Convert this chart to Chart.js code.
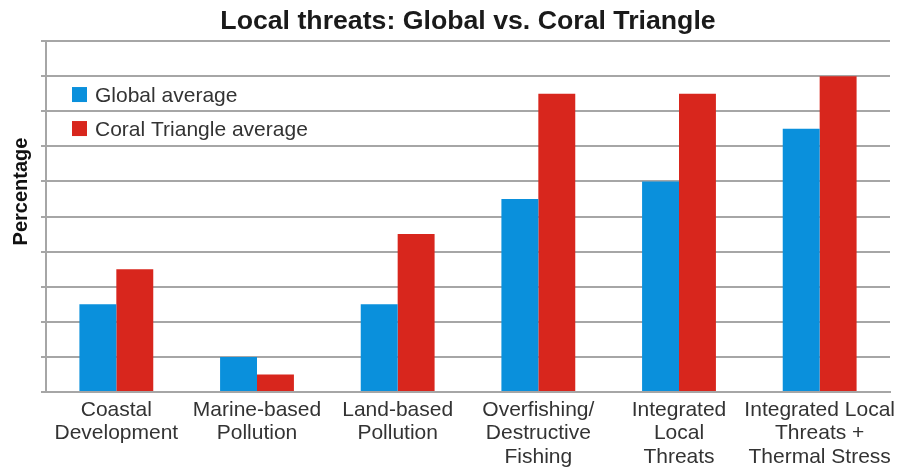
<!DOCTYPE html>
<html>
<head>
<meta charset="utf-8">
<script src="https://cdn.jsdelivr.net/npm/chart.js@4.4.1/dist/chart.umd.min.js"></script>
<style>
  html, body { margin: 0; padding: 0; background: #ffffff; }
  #wrap { width: 904px; height: 467px; position: relative; }
</style>
</head>
<body>
<div id="wrap"><canvas id="chart" width="904" height="467"></canvas></div>
<script>
// Threat categories (multi-line axis labels)
const categories = [
  ['Coastal', 'Development'],
  ['Marine-based', 'Pollution'],
  ['Land-based', 'Pollution'],
  ['Overfishing/', 'Destructive', 'Fishing'],
  ['Integrated', 'Local', 'Threats'],
  ['Integrated Local', 'Threats +', 'Thermal Stress']
];
// Share of reefs threatened (%)
const globalAverage = [25, 10, 25, 55, 60, 75];
const coralTriangleAverage = [35, 5, 45, 85, 85, 90];
const seriesNames = ['Global average', 'Coral Triangle average'];
const yAxisTitle = 'Percentage';
const yMax = 100;
const yStep = 10;

const BLUE = '#0a90dc';
const RED = '#d8261d';
const GRID = '#a6a6a6';
const FONT = '"Liberation Sans", Arial, Helvetica, sans-serif';

// Legend drawn inside the plot area, top-left
const insideLegend = {
  id: 'insideLegend',
  afterDatasetsDraw(chart) {
    const ctx = chart.ctx;
    const area = chart.chartArea;
    ctx.save();
    ctx.font = '21px ' + FONT;
    ctx.textBaseline = 'middle';
    chart.data.datasets.forEach((ds, i) => {
      const cy = area.top + 54 + i * 34;
      const x = area.left + 26;
      ctx.fillStyle = ds.backgroundColor;
      ctx.fillRect(x, cy - 8, 15, 15);
      ctx.fillStyle = '#333333';
      ctx.fillText(ds.label, x + 23, cy + 1);
    });
    ctx.restore();
  }
};

// Rotated y-axis title, sitting a little above the axis middle
const yTitle = {
  id: 'yTitle',
  afterDraw(chart) {
    const ctx = chart.ctx;
    const area = chart.chartArea;
    ctx.save();
    ctx.font = 'bold 20px ' + FONT;
    ctx.fillStyle = '#111111';
    ctx.textAlign = 'center';
    ctx.textBaseline = 'middle';
    ctx.translate(21, (area.top + area.bottom) / 2 - 25);
    ctx.rotate(-Math.PI / 2);
    ctx.fillText(yAxisTitle, 0, 0);
    ctx.restore();
  }
};

new Chart(document.getElementById('chart'), {
  type: 'bar',
  data: {
    labels: categories,
    datasets: [
      { label: seriesNames[0], data: globalAverage, backgroundColor: BLUE },
      { label: seriesNames[1], data: coralTriangleAverage, backgroundColor: RED }
    ]
  },
  plugins: [insideLegend, yTitle],
  options: {
    responsive: false,
    animation: false,
    layout: { padding: { left: 0, right: 14, top: 0, bottom: 0 } },
    datasets: {
      bar: { categoryPercentage: 0.525, barPercentage: 1.0, borderWidth: 0 }
    },
    plugins: {
      legend: { display: false },
      tooltip: { enabled: false },
      title: {
        display: true,
        text: 'Local threats: Global vs. Coral Triangle',
        fullSize: false,
        color: '#1a1a1a',
        font: { family: FONT, size: 26.7, weight: 'bold' },
        padding: { top: 6, bottom: 3 }
      }
    },
    scales: {
      x: {
        grid: { display: false, drawTicks: false },
        border: { display: true, color: GRID, width: 2 },
        ticks: {
          color: '#333333',
          font: { family: FONT, size: 21, lineHeight: 1.12 },
          padding: 6,
          maxRotation: 0,
          autoSkip: false
        },
        afterFit(scale) { scale.height = 75; }
      },
      y: {
        min: 0,
        max: yMax,
        grid: { color: GRID, lineWidth: 2, drawTicks: true, tickLength: 5 },
        border: { display: true, color: GRID, width: 2 },
        ticks: { display: false, stepSize: yStep },
        afterFit(scale) { scale.width = 46; }
      }
    }
  }
});
</script>
</body>
</html>
